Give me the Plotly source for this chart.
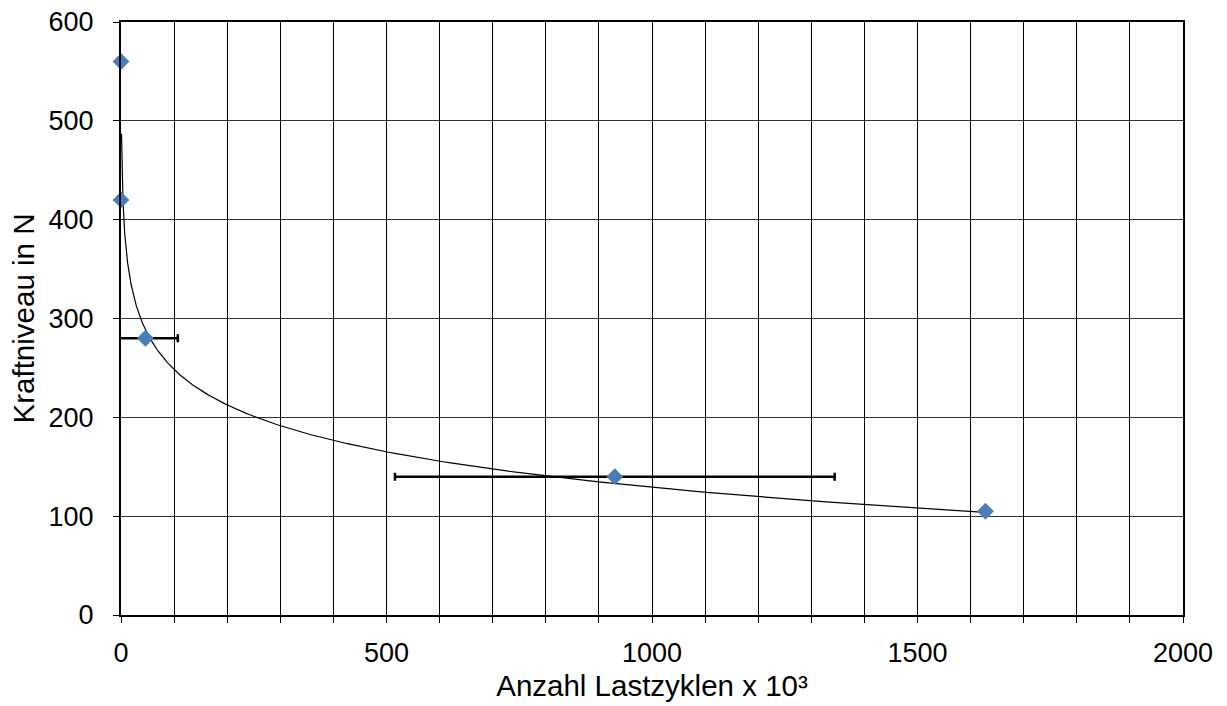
import numpy as np
import plotly.graph_objects as go

# Data
cycles_k = [0, 0, 46, 930, 1628]          # Anzahl Lastzyklen x 10^3
force_n = [560, 420, 280, 140, 105]       # Kraftniveau in N
err_x = [0, 0, 61, 414, 0]                # symmetric scatter of cycles

# Logarithmic trend line (y = A + C*ln(x)) parameters
TREND_A = 487.0
TREND_C = -51.8
TREND_X_START = 1
TREND_X_END = 1628

x_tick_vals = list(range(0, 2001, 100))
x_tick_text = [str(v) if v % 500 == 0 else "" for v in x_tick_vals]
y_tick_vals = list(range(0, 601, 100))

FONT = "Liberation Sans, Arial, sans-serif"

tx = np.exp(np.linspace(np.log(TREND_X_START), np.log(TREND_X_END), 400))
ty = TREND_A + TREND_C * np.log(tx)

fig = go.Figure()
fig.add_trace(go.Scatter(
    x=tx, y=ty, mode="lines",
    line=dict(color="black", width=1.2),
    hoverinfo="skip", showlegend=False,
))
# error bars (clipped at plot area)
fig.add_trace(go.Scatter(
    x=cycles_k, y=force_n, mode="markers",
    marker=dict(size=1, opacity=0),
    error_x=dict(type="data", array=err_x, color="black", thickness=2.5, width=4),
    cliponaxis=True, hoverinfo="skip", showlegend=False,
))
fig.add_trace(go.Scatter(
    x=cycles_k, y=force_n, mode="markers",
    marker=dict(symbol="diamond", size=13, color="#4A7EBB"),
    cliponaxis=False, showlegend=False,
))

fig.update_layout(
    width=1227, height=706,
    margin=dict(l=121, r=44, t=22, b=91),
    paper_bgcolor="white", plot_bgcolor="white",
    font=dict(family=FONT, size=27, color="black"),
    showlegend=False,
)
fig.update_xaxes(
    range=[0, 2000], tickmode="array", tickvals=x_tick_vals, ticktext=x_tick_text,
    showgrid=True, gridcolor="black", gridwidth=1,
    showline=True, linecolor="black", linewidth=2, mirror=True,
    ticks="outside", ticklen=6, tickcolor="black", tickwidth=1,
    ticklabelstandoff=7, automargin=False,
    zeroline=False,
    title=dict(text="Anzahl Lastzyklen x 10³", font=dict(size=29.5), standoff=8),
    tickfont=dict(size=27),
)
fig.update_yaxes(
    range=[0, 600], tickmode="array", tickvals=y_tick_vals,
    showgrid=True, gridcolor="#333333", gridwidth=1,
    showline=True, linecolor="black", linewidth=2, mirror=True,
    ticks="outside", ticklen=6, tickcolor="black", tickwidth=1,
    ticklabelstandoff=14, automargin=False,
    zeroline=False,
    title=dict(text="Kraftniveau in N", font=dict(size=29.5), standoff=5),
    tickfont=dict(size=27),
)

fig.write_html("out.html")
